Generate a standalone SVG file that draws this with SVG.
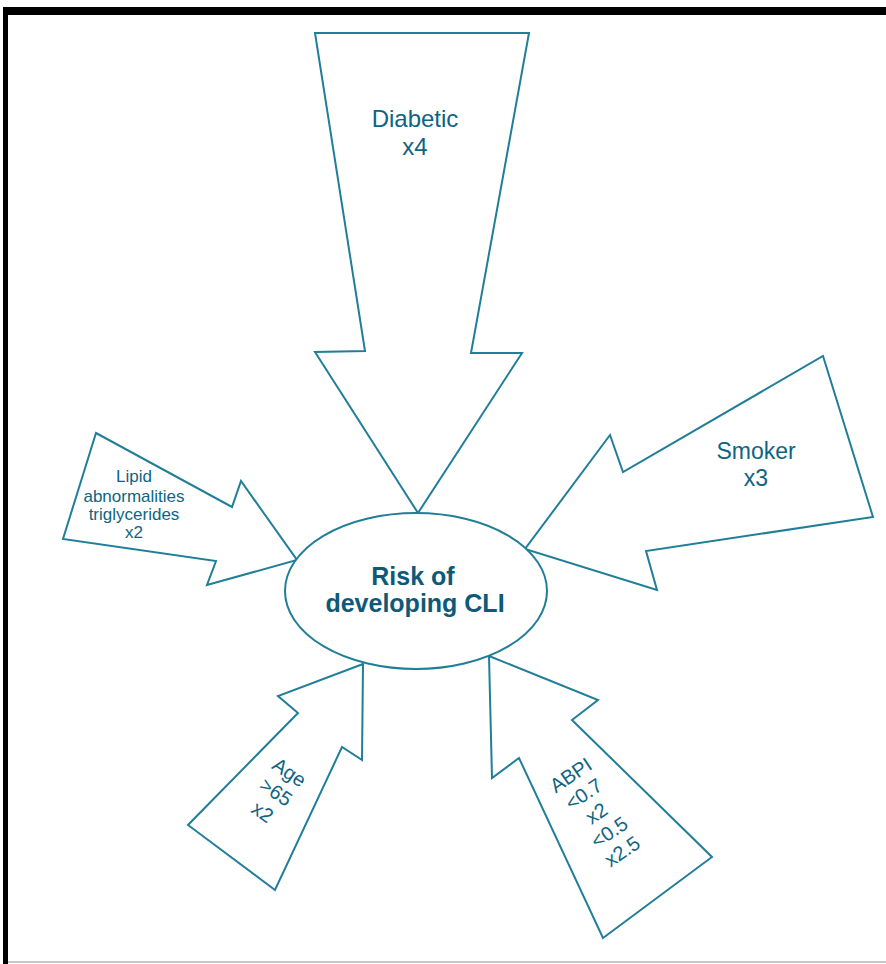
<svg xmlns="http://www.w3.org/2000/svg" width="886" height="964" viewBox="0 0 886 964">
<style>
.arr{fill:#fff;stroke:#217e99;stroke-width:2;stroke-linejoin:miter}
.lbl{font-family:"Liberation Sans",Arial,sans-serif;fill:#0f6482;text-anchor:middle}
.ctr{font-family:"Liberation Sans",Arial,sans-serif;fill:#0d5a78;font-weight:bold;font-size:25px;text-anchor:middle}
</style>
<rect x="0" y="0" width="886" height="964" fill="#fff"/>
<g id="frame">
<rect x="3" y="7" width="883" height="8" fill="#000"/>
<rect x="3" y="7" width="5" height="957" fill="#000"/>
<rect x="8" y="961" width="878" height="2" fill="#c8c8c8"/>
</g>
<g id="connectors">
<g id="arrow-diabetic">
<polygon class="arr" points="315,33 529,33 471,353 522,353 418,513 315,352 365,351"/>
<text class="lbl" font-size="24" x="415" y="127">Diabetic</text>
<text class="lbl" font-size="24" x="415" y="155">x4</text>
</g>
<g id="arrow-lipid">
<polygon class="arr" points="96,433 232,507 241,481 297,560 207,585 216,561 63,539"/>
<text class="lbl" font-size="17" x="134" y="482">Lipid</text>
<text class="lbl" font-size="17" x="134" y="502">abnormalities</text>
<text class="lbl" font-size="17" x="134" y="520">triglycerides</text>
<text class="lbl" font-size="17" x="134" y="538">x2</text>
</g>
<g id="arrow-smoker">
<polygon class="arr" points="823,356 873,517 646,551 657,590 525,549 610,435 623,472"/>
<text class="lbl" font-size="23" x="756" y="459">Smoker</text>
<text class="lbl" font-size="23" x="756" y="486">x3</text>
</g>
<g id="arrow-age">
<polygon class="arr" points="363,664 278,696 298,713 188,825 275,890 342,747 362,760"/>
<g transform="translate(276,792) rotate(34)">
<text class="lbl" font-size="20" x="0" y="-17">Age</text>
<text class="lbl" font-size="20" x="0" y="7">&gt;65</text>
<text class="lbl" font-size="20" x="0" y="31">x2</text>
</g>
</g>
<g id="arrow-abpi">
<polygon class="arr" points="489,656 598,700 572,720 712,857 603,938 519,758 492,778"/>
<g transform="translate(597,814) rotate(-34)">
<text class="lbl" font-size="20" x="0" y="-40">ABPI</text>
<text class="lbl" font-size="20" x="0" y="-17">&lt;0.7</text>
<text class="lbl" font-size="20" x="0" y="6">x2</text>
<text class="lbl" font-size="20" x="0" y="29">&lt;0.5</text>
<text class="lbl" font-size="20" x="0" y="52">x2.5</text>
</g>
</g>
</g>
<g id="node-risk">
<ellipse cx="416" cy="591" rx="131" ry="78" fill="#fff" stroke="#217e99" stroke-width="2"/>
<text class="ctr" x="413" y="585">Risk of</text>
<text class="ctr" x="415" y="612">developing CLI</text>
</g>
</svg>
